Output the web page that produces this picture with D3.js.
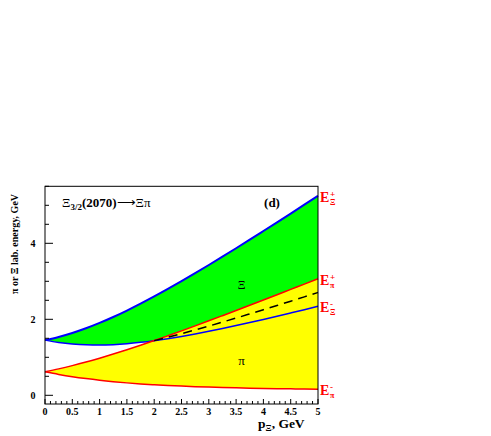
<!DOCTYPE html>
<html><head><meta charset="utf-8">
<script src="https://cdn.jsdelivr.net/npm/d3@7"></script>
<style>body{margin:0;background:#fff}svg{display:block}text{font-family:"Liberation Serif","Times New Roman",serif}</style>
</head><body>
<script>
const pValues = [0,0.25,0.5,0.75,1,1.25,1.5,1.75,2,2.25,2.5,2.75,3,3.25,3.5,3.75,4,4.25,4.5,4.75,5];
const xiPlus  = [1.452,1.536,1.639,1.763,1.904,2.060,2.230,2.411,2.601,2.799,3.004,3.214,3.429,3.648,3.870,4.095,4.323,4.552,4.783,5.016,5.250];
const xiMinus = [1.452,1.390,1.349,1.327,1.322,1.333,1.357,1.393,1.438,1.491,1.550,1.615,1.685,1.759,1.835,1.915,1.997,2.081,2.167,2.254,2.343];
const piPlus  = [0.618,0.695,0.781,0.875,0.977,1.085,1.199,1.318,1.440,1.567,1.696,1.827,1.960,2.095,2.231,2.369,2.507,2.646,2.787,2.927,3.069];
const piMinus = [0.618,0.550,0.490,0.439,0.395,0.358,0.327,0.300,0.278,0.258,0.242,0.228,0.216,0.205,0.196,0.188,0.181,0.175,0.170,0.165,0.162];
const dashP   = [2,2.25,2.5,2.75,3,3.25,3.5,3.75,4,4.25,4.5,4.75,5];
const dashE   = [1.439,1.529,1.623,1.721,1.822,1.927,2.033,2.142,2.252,2.364,2.477,2.591,2.706];
const xTickLabels = ["0","0.5","1","1.5","2","2.5","3","3.5","4","4.5","5"];
const yTickLabels = ["0","2","4"];

const W=491,H=436;
const svg=d3.select("body").append("svg").attr("width",W).attr("height",H);
const x=d3.scaleLinear().domain([0,5]).range([45,318]);
const y=d3.scaleLinear().domain([0,5.5]).range([395.3,186.3]);
const yBottom=404;

const band=(up,lo)=>d3.area().x((d,i)=>x(pValues[i])).y0((d,i)=>y(lo[i])).y1((d,i)=>y(up[i])).curve(d3.curveMonotoneX)(pValues);
const line=(arr)=>d3.line().x((d,i)=>x(pValues[i])).y((d,i)=>y(arr[i])).curve(d3.curveMonotoneX)(pValues);

svg.append("path").attr("d",band(xiPlus,xiMinus)).attr("fill","#00ff00");
svg.append("path").attr("d",band(piPlus,piMinus)).attr("fill","#ffff00");
svg.append("path").attr("d",line(xiPlus)).attr("fill","none").attr("stroke","#0000ff").attr("stroke-width",2);
svg.append("path").attr("d",line(xiMinus)).attr("fill","none").attr("stroke","#0000ff").attr("stroke-width",1.5);
svg.append("path").attr("d",line(piPlus)).attr("fill","none").attr("stroke","#ff0000").attr("stroke-width",1.5);
svg.append("path").attr("d",line(piMinus)).attr("fill","none").attr("stroke","#ff0000").attr("stroke-width",1.5);
svg.append("path").attr("d",d3.line().x((d,i)=>x(dashP[i])).y((d,i)=>y(dashE[i])).curve(d3.curveMonotoneX)(dashP))
  .attr("fill","none").attr("stroke","#000").attr("stroke-width",1.5).attr("stroke-dasharray","9,6");

// frame
svg.append("rect").attr("x",x(0)).attr("y",y(5.5)).attr("width",x(5)-x(0)).attr("height",yBottom-y(5.5))
  .attr("fill","none").attr("stroke","#000").attr("stroke-width",1);

// x ticks (inside, pointing up)
const xt=d3.range(0,51).map(i=>i/10);
svg.append("g").selectAll("line").data(xt).join("line")
  .attr("x1",d=>x(d)).attr("x2",d=>x(d)).attr("y1",yBottom)
  .attr("y2",(d,i)=>yBottom-(i%5===0?5:3)).attr("stroke","#000");
svg.append("g").selectAll("text").data(xTickLabels).join("text")
  .attr("x",d=>x(+d)).attr("y",415).attr("text-anchor","middle")
  .attr("font-size",10).attr("font-weight","bold").text(d=>d);

// y ticks
const yt=d3.range(0,12).map(i=>i*0.5);
svg.append("g").selectAll("line").data(yt).join("line")
  .attr("x1",x(0)).attr("x2",d=>x(0)+(d%2===0?8:4)).attr("y1",d=>y(d)).attr("y2",d=>y(d)).attr("stroke","#000");
svg.append("g").selectAll("text").data(yTickLabels).join("text")
  .attr("x",33).attr("y",d=>y(+d)+3.5).attr("text-anchor","middle")
  .attr("font-size",10).attr("font-weight","bold").text(d=>d);

// axis titles
svg.append("text").attr("transform","translate(18,244) rotate(-90)").attr("text-anchor","middle")
  .attr("font-size",10).attr("font-weight","bold").text("π or Ξ lab. energy, GeV");
const xl=svg.append("text").attr("x",258).attr("y",428).attr("font-size",13.5).attr("font-weight","bold");
xl.append("tspan").text("p");
xl.append("tspan").attr("font-size",9).attr("dy",3).text("Ξ");
xl.append("tspan").attr("dy",-3).text(", GeV");

// title
const t=svg.append("text").attr("x",62).attr("y",207).attr("font-size",13).attr("font-weight","bold");
t.append("tspan").attr("font-weight","normal").text("Ξ");
t.append("tspan").attr("font-size",9).attr("dy",3).text("3/2");
t.append("tspan").attr("dy",-3).text("(2070)");
t.append("tspan").attr("font-weight","normal").text("⟶Ξπ");
svg.append("text").attr("x",272).attr("y",207).attr("text-anchor","middle").attr("font-size",13).attr("font-weight","bold").text("(d)");

svg.append("text").attr("x",x(3.6)).attr("y",289).attr("text-anchor","middle").attr("font-size",12).text("Ξ");
svg.append("text").attr("x",x(3.6)).attr("y",365).attr("text-anchor","middle").attr("font-size",13).text("π");

// right labels
const rl=[{v:xiPlus[20],s:"+",b:"Ξ"},{v:piPlus[20],s:"+",b:"π"},{v:xiMinus[20],s:"-",b:"Ξ"},{v:piMinus[20],s:"-",b:"π"}];
rl.forEach(o=>{
  const yy=y(o.v)+6;
  svg.append("text").attr("x",320).attr("y",yy).attr("fill","#ff0000").attr("font-size",14).attr("font-weight","bold").text("E");
  svg.append("text").attr("x",330).attr("y",yy-5).attr("fill","#ff0000").attr("font-size",9).attr("font-weight","bold").text(o.s);
  svg.append("text").attr("x",330).attr("y",yy+3).attr("fill","#ff0000").attr("font-size",8).attr("font-weight","bold").text(o.b);
});
</script>
</body></html>
